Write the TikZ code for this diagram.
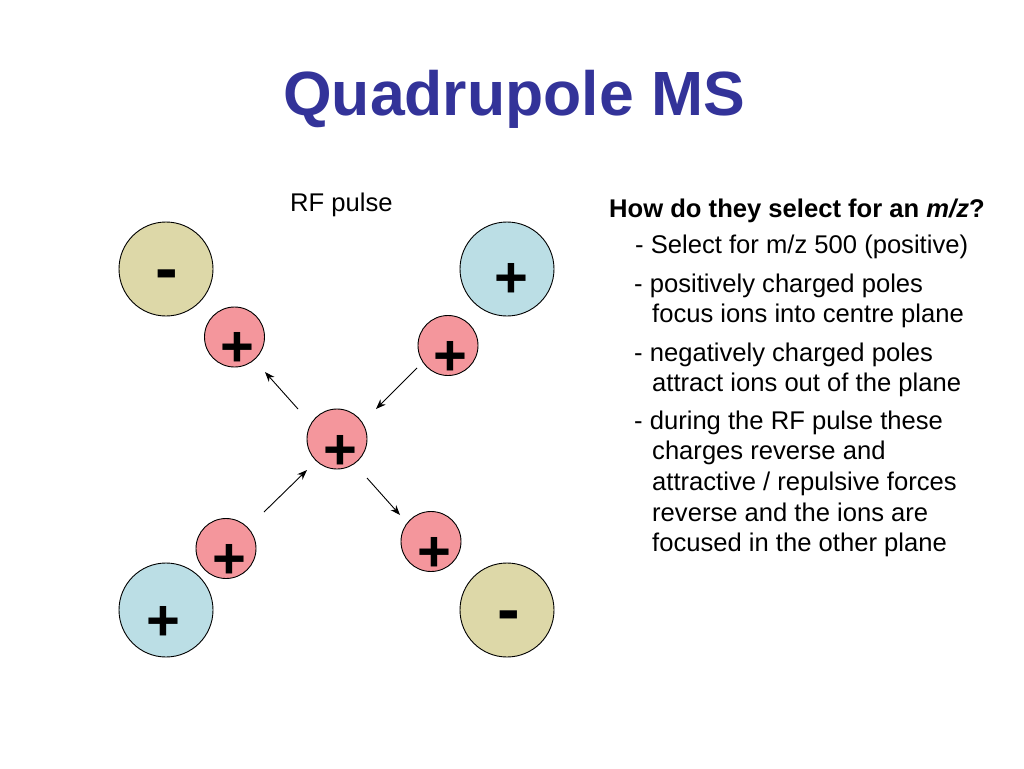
\documentclass[tikz,border=0pt]{standalone}
\usepackage{fontspec}
\setmainfont{Liberation Sans}
\usetikzlibrary{arrows.meta}
\definecolor{titleblue}{HTML}{333399}
\definecolor{tanpole}{HTML}{DDD8A8}
\definecolor{bluepole}{HTML}{BBDEE5}
\definecolor{ionpink}{HTML}{F4969C}
\begin{document}
\begin{tikzpicture}[x=1pt,y=-1pt,
  bigpole/.style={circle,draw=black,line width=0.9pt,minimum size=94pt,inner sep=0pt},
  ion/.style={circle,draw=black,line width=0.9pt,fill=ionpink,minimum size=60pt,inner sep=0pt},
  sign/.style={anchor=base,inner sep=0pt,font=\fontsize{58}{60}\selectfont\bfseries},
  minussign/.style={anchor=base,inner sep=0pt,font=\fontsize{68}{70}\selectfont\bfseries},
  txt/.style={anchor=base west,inner sep=0pt,font=\fontsize{25.6}{30.7}\selectfont},
  move/.style={line width=0.9pt,-{Stealth[length=10pt,width=7.5pt]}}]
\useasboundingbox[fill=white] (0,0) rectangle (1024,768);
% title
\node[anchor=base west,inner sep=0pt,text=titleblue,font=\fontsize{62.5}{70}\selectfont\bfseries] (title) at (283,115) {Quadrupole MS};
\node[txt] (rf) at (290,211) {RF pulse};
% poles
\node[bigpole,fill=tanpole] (ptl) at (166,269) {};
\node[bigpole,fill=bluepole] (ptr) at (507,269) {};
\node[bigpole,fill=bluepole] (pbl) at (166,610) {};
\node[bigpole,fill=tanpole] (pbr) at (507,610) {};
\node[minussign] (stl) at (167,291.5) {-};
\node[sign] (str) at (511,297) {+};
\node[sign] (sbl) at (163,640) {+};
\node[minussign] (sbr) at (509,632.5) {-};
% ions
\node[ion] (itl) at (234.5,337) {};
\node[ion] (itr) at (448,345.5) {};
\node[ion] (ic) at (337,439) {};
\node[ion] (ibl) at (226,548.5) {};
\node[ion] (ibr) at (431,541.5) {};
\node[sign] (sitl) at (237,366) {+};
\node[sign] (sitr) at (450,375) {+};
\node[sign] (sic) at (340,469) {+};
\node[sign] (sibl) at (229,578) {+};
\node[sign] (sibr) at (434,571) {+};
% arrow ends
\coordinate (a1s) at (298,409); \coordinate (a1e) at (265,372);
\coordinate (a2s) at (417,368); \coordinate (a2e) at (376,409);
\coordinate (a3s) at (264,512); \coordinate (a3e) at (307,470);
\coordinate (a4s) at (367,478); \coordinate (a4e) at (400,515);
\draw[move] (a1s) -- (a1e);
\draw[move] (a2s) -- (a2e);
\draw[move] (a3s) -- (a3e);
\draw[move] (a4s) -- (a4e);
% text
\node[txt,font=\fontsize{25.6}{30.7}\selectfont\bfseries] (h) at (609,217) {How do they select for an \textit{m/z}?};
\node[txt] (l1) at (635,253) {- Select for m/z 500 (positive)};
\node[txt] (l2) at (634,292) {- positively charged poles};
\node[txt] (l3) at (652,322.7) {focus ions into centre plane};
\node[txt] (l4) at (634,361) {- negatively charged poles};
\node[txt] (l5) at (652,391.7) {attract ions out of the plane};
\node[txt] (l6) at (634,429) {- during the RF pulse these};
\node[txt] (l7) at (652,459.7) {charges reverse and};
\node[txt] (l8) at (652,490.4) {attractive / repulsive forces};
\node[txt] (l9) at (652,521) {reverse and the ions are};
\node[txt] (l10) at (652,551.8) {focused in the other plane};
\end{tikzpicture}
\end{document}
